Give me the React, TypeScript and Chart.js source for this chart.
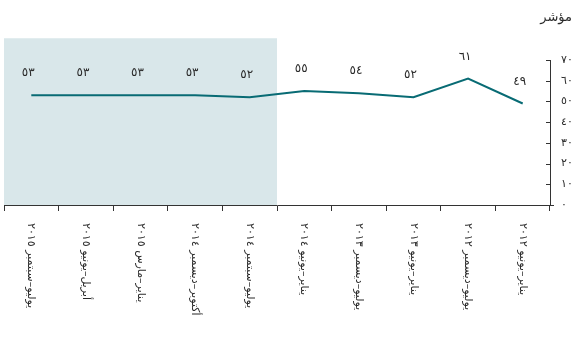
import React, { useEffect, useRef } from "react";
import { Chart, registerables } from "chart.js";

Chart.register(...registerables);

const categories: string[] = [
  "يوليو–سبتمبر ٢٠١٥",
  "أبريل–يونيو ٢٠١٥",
  "يناير–مارس ٢٠١٥",
  "أكتوبر–ديسمبر ٢٠١٤",
  "يوليو–سبتمبر ٢٠١٤",
  "يناير–يونيو ٢٠١٤",
  "يوليو–ديسمبر ٢٠١٣",
  "يناير–يونيو ٢٠١٣",
  "يوليو–ديسمبر ٢٠١٢",
  "يناير–يونيو ٢٠١٢",
];

const values: number[] = [53, 53, 53, 53, 52, 55, 54, 52, 61, 49];

const yTickLabels: string[] = ["٠", "١٠", "٢٠", "٣٠", "٤٠", "٥٠", "٦٠", "٧٠"];

const titleText = "مؤشر";

// first and last category index of the shaded band
const shadedRange: number[] = [0, 4];
const shadeTopValue = 80.5;

const FONT = '"DejaVu Sans", sans-serif';
const TEXT_COLOR = "#2b2b2b";
const AXIS_COLOR = "#333333";
const LINE_COLOR = "#086b74";
const SHADE_COLOR = "#d9e7ea";

const toArabicDigits = (n: number) =>
  String(n).replace(/\d/g, (d) => "٠١٢٣٤٥٦٧٨٩"[Number(d)]);

const customPlugin = {
  id: "customDecor",
  beforeDraw(chart: any) {
    const { ctx, chartArea, scales } = chart;
    const x = scales.x;
    const y = scales.y;
    const left = x.getPixelForValue(shadedRange[0] - 0.5);
    const right = x.getPixelForValue(shadedRange[1] + 0.5);
    const top = y.getPixelForValue(shadeTopValue);
    ctx.save();
    ctx.fillStyle = SHADE_COLOR;
    ctx.fillRect(left, top, right - left, chartArea.bottom - top);
    ctx.restore();
  },
  afterDraw(chart: any) {
    const { ctx, chartArea, scales } = chart;
    const x = scales.x;
    const y = scales.y;
    ctx.save();

    // title
    ctx.fillStyle = TEXT_COLOR;
    ctx.font = `13px ${FONT}`;
    ctx.textAlign = "right";
    ctx.textBaseline = "middle";
    ctx.fillText(titleText, chart.width - 1, 18);

    // inward y tick marks
    ctx.strokeStyle = AXIS_COLOR;
    ctx.lineWidth = 1;
    y.ticks.forEach((t: any) => {
      const py = Math.round(y.getPixelForValue(t.value)) + 0.5;
      ctx.beginPath();
      ctx.moveTo(chartArea.right - 4, py);
      ctx.lineTo(chartArea.right + (t.value === 0 ? 4 : 0), py);
      ctx.stroke();
    });

    // category labels, rotated clockwise
    ctx.fillStyle = TEXT_COLOR;
    ctx.font = `11px ${FONT}`;
    ctx.textAlign = "left";
    ctx.textBaseline = "middle";
    categories.forEach((label, i) => {
      const px = x.getPixelForValue(i);
      ctx.save();
      ctx.translate(px, x.top + 18);
      ctx.rotate(Math.PI / 2);
      ctx.fillText(label, 0, 0);
      ctx.restore();
    });

    // data labels
    const meta = chart.getDatasetMeta(0);
    ctx.font = `12px ${FONT}`;
    ctx.textAlign = "center";
    ctx.textBaseline = "middle";
    meta.data.forEach((pt: any, i: number) => {
      ctx.fillText(toArabicDigits(values[i]), pt.x - 3, pt.y - 22);
    });

    ctx.restore();
  },
};

export default function App() {
  const canvasRef = useRef<HTMLCanvasElement | null>(null);

  useEffect(() => {
    if (!canvasRef.current) return;
    const chart = new Chart(canvasRef.current, {
      type: "line",
      data: {
        labels: categories,
        datasets: [
          {
            data: values,
            borderColor: LINE_COLOR,
            borderWidth: 2,
            pointRadius: 0,
            tension: 0,
            fill: false,
          },
        ],
      },
      options: {
        animation: false,
        responsive: false,
        maintainAspectRatio: false,
        layout: { padding: { left: 4, top: 60, right: 0, bottom: 0 } },
        plugins: {
          legend: { display: false },
          tooltip: { enabled: false },
          title: { display: false },
        },
        scales: {
          x: {
            type: "category",
            offset: true,
            ticks: { display: false },
            grid: {
              display: true,
              offset: true,
              drawOnChartArea: false,
              drawTicks: true,
              tickLength: 6,
              color: AXIS_COLOR,
            },
            border: { display: true, color: AXIS_COLOR, width: 1 },
            afterFit: (scale: any) => {
              scale.height = 133;
            },
          },
          y: {
            position: "right",
            min: 0,
            max: 70,
            ticks: {
              stepSize: 10,
              padding: 11,
              color: TEXT_COLOR,
              font: { family: FONT, size: 11 },
              callback: (_v: any, index: number) => yTickLabels[index],
            },
            grid: { display: true, drawOnChartArea: false, drawTicks: false },
            border: { display: true, color: AXIS_COLOR, width: 1 },
            afterFit: (scale: any) => {
              scale.width = 23;
            },
          },
        },
      },
      plugins: [customPlugin],
    });
    return () => chart.destroy();
  }, []);

  return (
    <div style={{ position: "fixed", left: 0, top: 0, width: 573, height: 338, background: "#fff" }}>
      <canvas ref={canvasRef} width={573} height={338} style={{ display: "block" }} />
    </div>
  );
}
